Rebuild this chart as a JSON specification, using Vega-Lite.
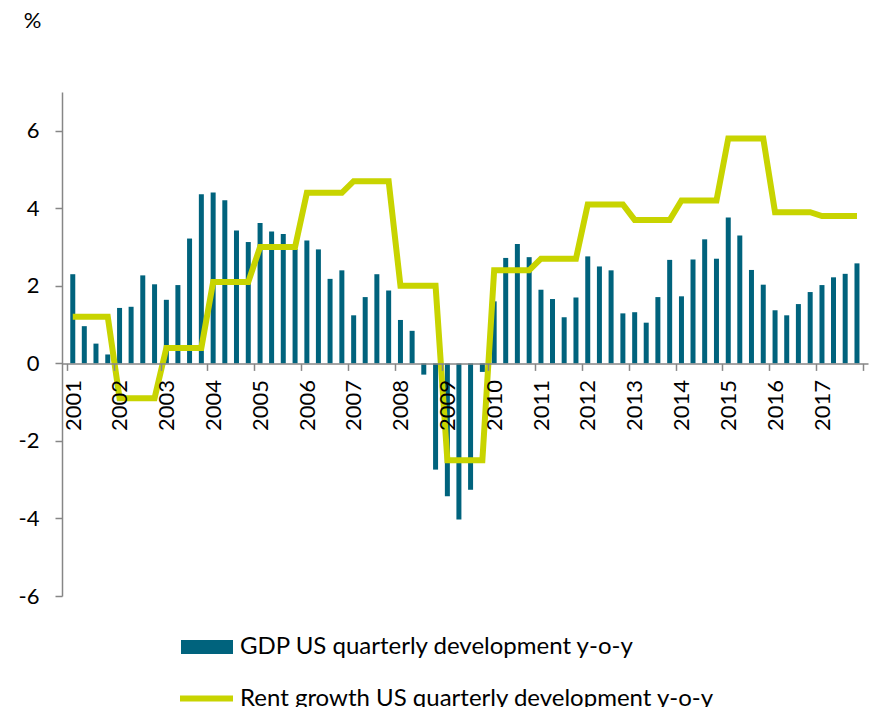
{
  "$schema": "https://vega.github.io/schema/vega-lite/v6.json",
  "width": 806,
  "height": 504,
  "autosize": {"type": "none"},
  "padding": {"left": 62, "top": 92, "right": 13, "bottom": 111},
  "background": "white",
  "config": {
    "view": {"stroke": null},
    "font": "Lato",
    "axis": {
      "domainColor": "#868686",
      "tickColor": "#868686",
      "domainWidth": 1.5,
      "tickWidth": 1.5,
      "labelColor": "#000000",
      "labelFont": "Lato",
      "labelFontSize": 22,
      "grid": false,
      "tickSize": 7
    },
    "legend": {
      "labelFont": "Lato",
      "labelFontSize": 24,
      "labelColor": "#000000",
      "labelLimit": 800
    }
  },
  "data": {
    "values": [
      {"date": "2001-02-15", "gdp": 2.30, "rent": 1.2},
      {"date": "2001-05-16", "gdp": 0.96, "rent": 1.2},
      {"date": "2001-08-15", "gdp": 0.51, "rent": 1.2},
      {"date": "2001-11-15", "gdp": 0.23, "rent": 1.2},
      {"date": "2002-02-15", "gdp": 1.43, "rent": -0.9},
      {"date": "2002-05-16", "gdp": 1.46, "rent": -0.9},
      {"date": "2002-08-15", "gdp": 2.27, "rent": -0.9},
      {"date": "2002-11-15", "gdp": 2.04, "rent": -0.9},
      {"date": "2003-02-15", "gdp": 1.64, "rent": 0.4},
      {"date": "2003-05-16", "gdp": 2.02, "rent": 0.4},
      {"date": "2003-08-15", "gdp": 3.22, "rent": 0.4},
      {"date": "2003-11-15", "gdp": 4.36, "rent": 0.4},
      {"date": "2004-02-15", "gdp": 4.41, "rent": 2.1},
      {"date": "2004-05-16", "gdp": 4.21, "rent": 2.1},
      {"date": "2004-08-15", "gdp": 3.43, "rent": 2.1},
      {"date": "2004-11-15", "gdp": 3.13, "rent": 2.1},
      {"date": "2005-02-15", "gdp": 3.62, "rent": 3.0},
      {"date": "2005-05-16", "gdp": 3.40, "rent": 3.0},
      {"date": "2005-08-15", "gdp": 3.34, "rent": 3.0},
      {"date": "2005-11-15", "gdp": 2.95, "rent": 3.0},
      {"date": "2006-02-15", "gdp": 3.17, "rent": 4.4},
      {"date": "2006-05-16", "gdp": 2.94, "rent": 4.4},
      {"date": "2006-08-15", "gdp": 2.18, "rent": 4.4},
      {"date": "2006-11-15", "gdp": 2.40, "rent": 4.4},
      {"date": "2007-02-15", "gdp": 1.24, "rent": 4.7},
      {"date": "2007-05-16", "gdp": 1.71, "rent": 4.7},
      {"date": "2007-08-15", "gdp": 2.30, "rent": 4.7},
      {"date": "2007-11-15", "gdp": 1.88, "rent": 4.7},
      {"date": "2008-02-15", "gdp": 1.12, "rent": 2.0},
      {"date": "2008-05-16", "gdp": 0.84, "rent": 2.0},
      {"date": "2008-08-15", "gdp": -0.29, "rent": 2.0},
      {"date": "2008-11-15", "gdp": -2.74, "rent": 2.0},
      {"date": "2009-02-15", "gdp": -3.43, "rent": -2.5},
      {"date": "2009-05-16", "gdp": -4.03, "rent": -2.5},
      {"date": "2009-08-15", "gdp": -3.26, "rent": -2.5},
      {"date": "2009-11-15", "gdp": -0.22, "rent": -2.5},
      {"date": "2010-02-15", "gdp": 1.60, "rent": 2.4},
      {"date": "2010-05-16", "gdp": 2.72, "rent": 2.4},
      {"date": "2010-08-15", "gdp": 3.08, "rent": 2.4},
      {"date": "2010-11-15", "gdp": 2.74, "rent": 2.4},
      {"date": "2011-02-15", "gdp": 1.90, "rent": 2.7},
      {"date": "2011-05-16", "gdp": 1.66, "rent": 2.7},
      {"date": "2011-08-15", "gdp": 1.19, "rent": 2.7},
      {"date": "2011-11-15", "gdp": 1.70, "rent": 2.7},
      {"date": "2012-02-15", "gdp": 2.76, "rent": 4.1},
      {"date": "2012-05-16", "gdp": 2.50, "rent": 4.1},
      {"date": "2012-08-15", "gdp": 2.40, "rent": 4.1},
      {"date": "2012-11-15", "gdp": 1.29, "rent": 4.1},
      {"date": "2013-02-15", "gdp": 1.32, "rent": 3.7},
      {"date": "2013-05-16", "gdp": 1.05, "rent": 3.7},
      {"date": "2013-08-15", "gdp": 1.71, "rent": 3.7},
      {"date": "2013-11-15", "gdp": 2.67, "rent": 3.7},
      {"date": "2014-02-15", "gdp": 1.73, "rent": 4.2},
      {"date": "2014-05-16", "gdp": 2.68, "rent": 4.2},
      {"date": "2014-08-15", "gdp": 3.20, "rent": 4.2},
      {"date": "2014-11-15", "gdp": 2.70, "rent": 4.2},
      {"date": "2015-02-15", "gdp": 3.76, "rent": 5.8},
      {"date": "2015-05-16", "gdp": 3.30, "rent": 5.8},
      {"date": "2015-08-15", "gdp": 2.41, "rent": 5.8},
      {"date": "2015-11-15", "gdp": 2.03, "rent": 5.8},
      {"date": "2016-02-15", "gdp": 1.37, "rent": 3.9},
      {"date": "2016-05-16", "gdp": 1.24, "rent": 3.9},
      {"date": "2016-08-15", "gdp": 1.53, "rent": 3.9},
      {"date": "2016-11-15", "gdp": 1.84, "rent": 3.9},
      {"date": "2017-02-15", "gdp": 2.02, "rent": 3.8},
      {"date": "2017-05-16", "gdp": 2.22, "rent": 3.8},
      {"date": "2017-08-15", "gdp": 2.31, "rent": 3.8},
      {"date": "2017-11-15", "gdp": 2.58, "rent": 3.8}
    ]
  },
  "encoding": {
    "x": {
      "field": "date",
      "type": "temporal",
      "scale": {"domain": [{"year": 2001, "month": 1, "date": 1}, {"year": 2018, "month": 1, "date": 1}], "nice": false},
      "axis": {
        "title": null,
        "offset": -232.6,
        "zindex": 1,
        "tickCount": {"interval": "year", "step": 1},
        "format": "%Y",
        "labelExpr": "year(datum.value) > 2017 ? '' : datum.label",
        "labelAngle": 270,
        "labelOffset": 6,
        "labelPadding": 9,
        "labelFlush": false,
        "labelOverlap": false,
        "labelBound": false
      }
    }
  },
  "layer": [
    {
      "mark": {"type": "bar", "width": 5},
      "encoding": {
        "y": {
          "field": "gdp",
          "type": "quantitative",
          "scale": {"domain": [-6, 7], "nice": false, "zero": false},
          "axis": {
            "title": "%",
            "titleAngle": 0,
            "titleX": -30,
            "titleY": -72,
            "titleAlign": "center",
            "titleBaseline": "middle",
            "titleFont": "Lato",
            "titleFontSize": 22,
            "titleFontWeight": "normal",
            "titleColor": "#000000",
            "values": [-6, -4, -2, 0, 2, 4, 6],
            "labelExpr": "datum.value < 0 ? '-' + abs(datum.value) : '' + datum.value",
            "labelPadding": 16
          }
        },
        "fill": {
          "datum": "GDP US quarterly development y-o-y",
          "type": "nominal",
          "scale": {"range": ["#00637D"]},
          "legend": {
            "title": null,
            "orient": "none",
            "legendX": 119,
            "legendY": 529,
            "symbolType": "M-1,-0.27L1,-0.27L1,0.27L-1,0.27Z",
            "symbolSize": 2704,
            "symbolStrokeWidth": 0,
            "labelOffset": 7
          }
        }
      }
    },
    {
      "mark": {"type": "line", "strokeWidth": 6, "color": "#C8D400"},
      "encoding": {
        "y": {
          "field": "rent",
          "type": "quantitative",
          "scale": {"domain": [-6, 7], "nice": false, "zero": false},
          "axis": {
            "title": "%",
            "titleAngle": 0,
            "titleX": -30,
            "titleY": -72,
            "titleAlign": "center",
            "titleBaseline": "middle",
            "titleFont": "Lato",
            "titleFontSize": 22,
            "titleFontWeight": "normal",
            "titleColor": "#000000",
            "values": [-6, -4, -2, 0, 2, 4, 6],
            "labelExpr": "datum.value < 0 ? '-' + abs(datum.value) : '' + datum.value",
            "labelPadding": 16
          }
        },
        "stroke": {
          "datum": "Rent growth US quarterly development y-o-y",
          "type": "nominal",
          "scale": {"range": ["#C8D400"]},
          "legend": {
            "title": null,
            "orient": "none",
            "legendX": 115,
            "legendY": 577,
            "symbolType": "stroke",
            "symbolSize": 2809,
            "symbolStrokeWidth": 6,
            "labelOffset": 4
          }
        }
      }
    }
  ]
}
